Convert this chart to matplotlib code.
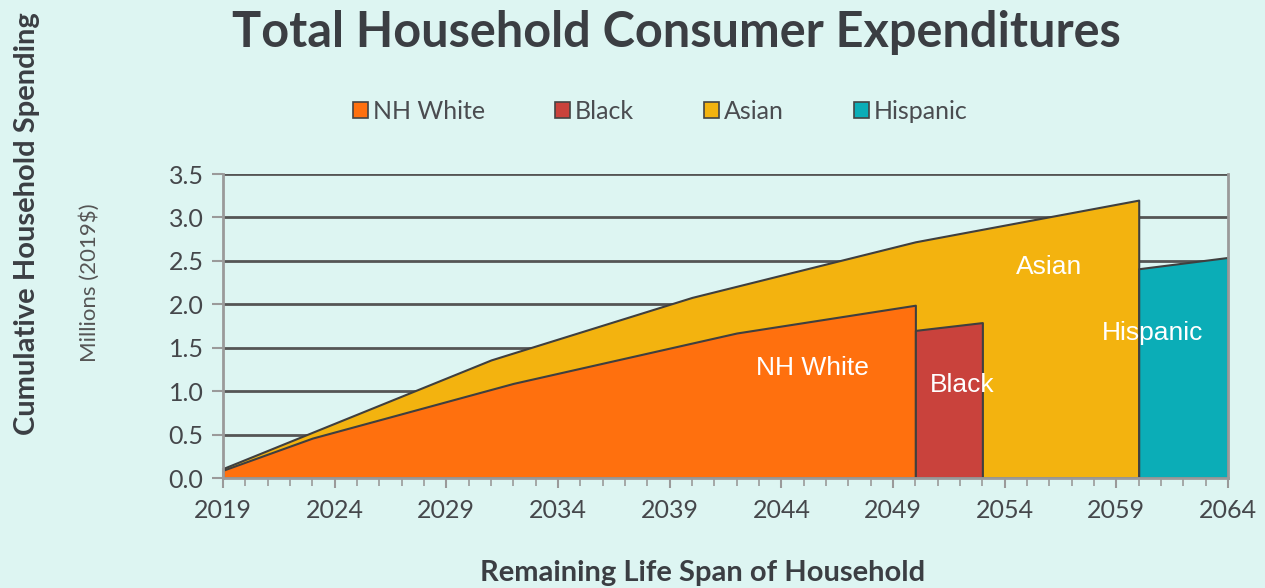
import matplotlib
matplotlib.use("Agg")
import matplotlib.pyplot as plt
from matplotlib.patches import Patch
from matplotlib.ticker import MultipleLocator

# data (millions of 2019 dollars)
white_years = [2019, 2023, 2032, 2042, 2050]
white_vals = [0.09, 0.46, 1.09, 1.67, 1.99]
asian_years = [2019, 2031, 2040, 2050, 2060]
asian_vals = [0.11, 1.36, 2.08, 2.72, 3.20]
black_years = [2050, 2053]
black_vals = [1.70, 1.79]
hisp_years = [2060, 2064]
hisp_vals = [2.41, 2.54]

labels = ["NH White", "Black", "Asian", "Hispanic"]
colors = ["#FF700E", "#C9423C", "#F3B30F", "#0BADB7"]
x_ticks = [2019, 2024, 2029, 2034, 2039, 2044, 2049, 2054, 2059, 2064]

bg = "#DDF5F2"
dark = "#3B3E43"
edge = "#3F3F3F"

plt.rcParams['font.family'] = ['Lato', 'DejaVu Sans']

fig = plt.figure(figsize=(12.65, 5.88), dpi=100, facecolor=bg)
ax = fig.add_axes([0.1763, 0.187, 0.7945, 0.517])
ax.set_facecolor(bg)

# draw areas: asian behind, others on top
ax.fill_between(asian_years, asian_vals, 0, facecolor=colors[2], edgecolor=edge, linewidth=1.5, zorder=1)
ax.fill_between(white_years, white_vals, 0, facecolor=colors[0], edgecolor=edge, linewidth=1.5, zorder=1.1)
ax.fill_between(black_years, black_vals, 0, facecolor=colors[1], edgecolor=edge, linewidth=1.5, zorder=1.1)
ax.fill_between(hisp_years, hisp_vals, 0, facecolor=colors[3], edgecolor=edge, linewidth=1.5, zorder=1.1)

ax.set_xlim(2019, 2064)
ax.set_ylim(0, 3.5)
ax.set_xticks(x_ticks)
ax.xaxis.set_minor_locator(MultipleLocator(1))
ax.yaxis.set_major_locator(MultipleLocator(0.5))
ax.yaxis.set_major_formatter(matplotlib.ticker.FormatStrFormatter('%.1f'))

ax.set_axisbelow(True)
ax.grid(axis='y', color='#555555', linewidth=2)
for s in ['left', 'bottom', 'right']:
    ax.spines[s].set_color('#9A9A9A')
    ax.spines[s].set_linewidth(2)
ax.spines['top'].set_visible(False)

ax.tick_params(axis='x', which='major', direction='inout', length=14, width=1.5, color='#9A9A9A',
               labelsize=18, labelcolor='#45474B', pad=8)
ax.tick_params(axis='x', which='minor', direction='out', length=6, width=1.2, color='#9A9A9A')
ax.tick_params(axis='y', which='major', direction='out', length=8, width=1.5, color='#9A9A9A',
               labelsize=18, labelcolor='#45474B', pad=6)

# labels inside areas
lab_font = dict(color='white', fontsize=19, family=['Liberation Sans', 'DejaVu Sans'], ha='center', va='center')
ax.text(2045.4, 1.27, "NH White", **lab_font)
ax.text(2052.1, 1.07, "Black", **lab_font)
ax.text(2056.0, 2.43, "Asian", **lab_font)
ax.text(2060.6, 1.67, "Hispanic", **lab_font)

fig.text(0.535, 0.945, "Total Household Consumer Expenditures", ha='center', va='center',
         fontsize=35, fontweight='bold', color=dark)
fig.text(0.021, 0.619, "Cumulative Household Spending", rotation=90, ha='center', va='center',
         fontsize=21, fontweight='bold', color=dark)
fig.text(0.071, 0.519, "Millions (2019$)", rotation=90, ha='center', va='center',
         fontsize=16, color='#555555')
fig.text(0.555, 0.004, "Remaining Life Span of Household", ha='center', va='bottom',
         fontsize=21, fontweight='bold', color=dark)

handles = [Patch(facecolor=c, edgecolor='#444444', linewidth=1.2) for c in colors]
fig.legend(handles, labels, loc='center', bbox_to_anchor=(0.522, 0.811), ncol=4, frameon=False,
           fontsize=18, labelcolor='#4A4C50', handlelength=0.6, handleheight=0.6,
           handletextpad=0.2, columnspacing=2.8)

fig.savefig("out.png", dpi=100, facecolor=bg)
